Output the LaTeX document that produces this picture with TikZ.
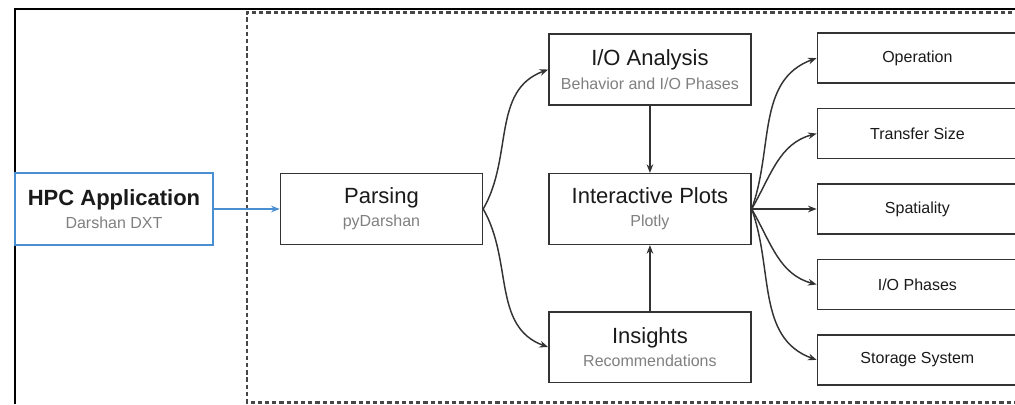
\documentclass[tikz,border=0pt]{standalone}
\usepackage{fontspec}
\setmainfont{Liberation Sans}
\usepackage{tikz}
\usepackage{xcolor}
\usetikzlibrary{positioning}
\usetikzlibrary{arrows.meta}
\definecolor{boxline}{HTML}{333333}
\definecolor{subgray}{HTML}{808080}
\definecolor{appblue}{HTML}{4A8FD2}
\definecolor{titletext}{HTML}{1A1A1A}
\newcommand{\stagenote}[1]{{\color{subgray}\fontsize{12}{14}\selectfont #1}}

\begin{document}
\begin{tikzpicture}[->, >={Stealth[length=6.5pt, width=5pt]}, draw=boxline, line width=1.1pt, node distance=48.75pt, font=\fontsize{16.5}{17.5}\selectfont]
	\tikzstyle{stage}=[draw=boxline, rectangle, fill=white, minimum width=151.5pt, minimum height=53pt, inner sep=0pt, align=center, text=titletext]
	\tikzstyle{view}=[draw=boxline, rectangle, fill=white, minimum width=150pt, minimum height=37.5pt, inner sep=0pt, text=titletext, font=\fontsize{12}{14}\selectfont]
	\tikzstyle{frame}=[-, black, line width=1.6pt]
	\tikzstyle{region}=[-, draw=black!72, line width=1.8pt, dash pattern=on 3.2pt off 2.2pt]

	\useasboundingbox (0,0) rectangle (761.25pt,-303pt);

	% screenshot frame and dashed region
	\draw[frame] (11.25pt,-303pt) -- (11.25pt,-6.75pt) -- (770pt,-6.75pt);
	\draw[region] (770pt,-9.25pt) -- (185.25pt,-9.25pt) -- (185.25pt,-302pt) -- (770pt,-302pt);

	\node[stage, draw=appblue, minimum width=148.5pt, minimum height=54pt] (app) at (85.5pt,-156.75pt) {\textbf{HPC Application}\\\stagenote{Darshan DXT}};
	\node[stage, right=49.5pt of app] (parse) {Parsing\\\stagenote{pyDarshan}};
	\node[stage, right=of parse] (plots) {Interactive Plots\\\stagenote{Plotly}};
	\node[stage, above=50.5pt of plots] (anl) {I/O Analysis\\\stagenote{Behavior and I/O Phases}};
	\node[stage, below=49.5pt of plots] (ins) {Insights\\\stagenote{Recommendations}};

	\node[view, right=of plots] (sp) {Spatiality};
	\node[view, above=18pt of sp] (ts) {Transfer Size};
	\node[view, above=18pt of ts] (op) {Operation};
	\node[view, below=18pt of sp] (ph) {I/O Phases};
	\node[view, below=18pt of ph] (ss) {Storage System};

	\path (app) edge[draw=appblue] (parse);
	\path (parse.east) edge[out=60, in=200] (anl.west);
	\path (parse.east) edge[out=-60, in=160] (ins.west);
	\path (anl) edge (plots);
	\path (ins) edge (plots);

	\path (plots.east) edge[out=70, in=200] (op.west);
	\path (plots.east) edge[out=60, in=195] (ts.west);
	\path (plots.east) edge (sp.west);
	\path (plots.east) edge[out=-60, in=165] (ph.west);
	\path (plots.east) edge[out=-70, in=160] (ss.west);
\end{tikzpicture}
\end{document}
